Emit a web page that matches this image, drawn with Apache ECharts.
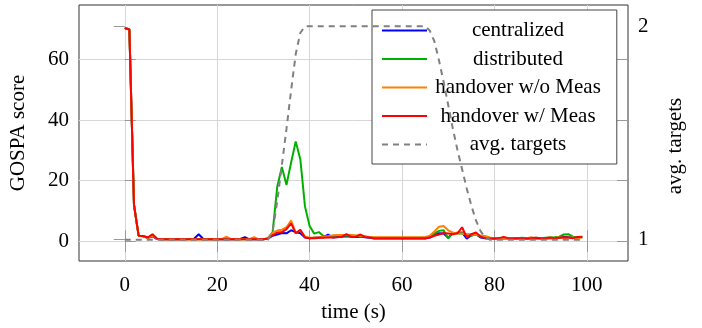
<!DOCTYPE html>
<html>
<head>
<meta charset="utf-8">
<script src="https://cdn.jsdelivr.net/npm/echarts@6/dist/echarts.min.js"></script>
<style>
  html, body { margin: 0; padding: 0; background: #fff; }
  #chart { width: 702px; height: 328px; }
</style>
</head>
<body>
<div id="chart"></div>
<script>
// 数据
var time = Array.from({ length: 100 }, (_, i) => i); // 0..99 s

var centralized = [
  70.5, 70, 12, 1.8, 1.6, 1.0, 1.6, 0.7, 0.6, 0.6,
  0.6, 0.6, 0.6, 0.6, 0.7, 0.8, 2.3, 0.7, 0.6, 0.6,
  0.6, 0.6, 0.7, 0.6, 0.6, 0.7, 1.3, 0.6, 0.6, 0.6,
  0.6, 0.8, 1.8, 2.2, 2.7, 2.6, 3.6, 3.0, 2.6, 1.2,
  1.0, 1.1, 1.2, 1.3, 2.2, 1.2, 1.4, 1.5, 1.6, 1.5,
  1.4, 1.5, 1.3, 1.1, 0.9, 0.9, 0.9, 0.9, 0.9, 0.9,
  0.9, 0.9, 0.9, 0.9, 0.9, 0.9, 1.2, 2.0, 2.6, 2.5,
  1.1, 2.6, 2.8, 2.9, 0.8, 2.0, 2.3, 1.2, 1.0, 0.9,
  0.9, 0.9, 1.0, 0.9, 0.9, 0.9, 0.9, 0.9, 1.0, 0.9,
  0.9, 0.9, 1.0, 1.0, 1.1, 1.4, 1.3, 1.2, 1.3, 1.4
];
var distributed = [
  70.5, 70, 12, 1.8, 1.6, 1.2, 2.2, 0.7, 0.6, 0.6,
  0.6, 0.6, 0.6, 0.6, 0.6, 0.6, 0.7, 0.6, 0.6, 0.6,
  0.6, 0.6, 0.6, 0.6, 0.6, 0.6, 0.6, 0.6, 0.6, 0.6,
  0.6, 1.0, 3.0, 18, 24.5, 18.6, 26, 33, 27, 11.5,
  5.0, 2.5, 3.0, 1.7, 1.5, 1.8, 1.9, 1.9, 1.8, 1.9,
  1.8, 1.7, 1.5, 1.3, 1.1, 1.1, 1.1, 1.1, 1.1, 1.1,
  1.1, 1.1, 1.1, 1.1, 1.1, 1.2, 1.5, 2.5, 3.4, 3.6,
  0.9, 2.8, 2.5, 2.6, 2.0, 1.8, 2.3, 1.5, 1.1, 1.0,
  1.0, 1.0, 1.1, 1.0, 1.0, 1.0, 1.1, 1.0, 1.0, 1.1,
  1.0, 1.1, 1.2, 1.3, 1.5, 2.2, 2.3, 1.5, 1.3, 1.4
];
var handoverNoMeas = [
  70.5, 70, 12, 1.8, 1.6, 1.0, 1.8, 0.7, 0.6, 0.6,
  0.6, 0.6, 0.6, 0.6, 0.6, 0.6, 0.6, 0.6, 0.6, 0.6,
  0.6, 0.7, 1.5, 0.7, 0.6, 0.6, 0.6, 0.7, 1.3, 0.6,
  0.6, 1.0, 2.8, 3.5, 3.8, 4.6, 6.8, 2.8, 3.6, 1.5,
  1.1, 1.2, 1.3, 1.5, 1.6, 1.9, 2.0, 2.0, 2.0, 2.0,
  1.9, 1.8, 1.6, 1.4, 1.3, 1.3, 1.3, 1.3, 1.3, 1.3,
  1.3, 1.3, 1.3, 1.3, 1.3, 1.4, 1.8, 3.2, 4.8, 5.0,
  3.6, 2.8, 2.6, 2.5, 2.4, 2.3, 2.1, 1.9, 1.7, 1.2,
  1.0, 0.9, 1.0, 0.9, 0.9, 1.0, 0.9, 1.0, 1.3, 1.0,
  0.9, 1.0, 1.0, 1.1, 1.3, 1.0, 1.1, 1.2, 1.0, 1.2
];
var handoverMeas = [
  70.5, 70, 12, 1.8, 1.7, 1.2, 2.3, 0.8, 0.6, 0.6,
  0.6, 0.6, 0.6, 0.6, 0.6, 0.6, 0.6, 0.6, 0.6, 0.6,
  0.6, 0.6, 0.6, 0.6, 0.6, 0.6, 0.6, 0.6, 0.6, 0.6,
  0.6, 0.9, 2.0, 2.8, 3.0, 4.0, 5.9, 2.6, 3.8, 1.2,
  1.0, 1.0, 1.1, 1.1, 1.2, 1.2, 1.3, 1.5, 2.3, 1.4,
  1.5, 2.2, 1.4, 1.2, 1.0, 1.0, 1.0, 1.0, 1.0, 1.0,
  1.0, 1.0, 1.0, 1.0, 1.0, 1.0, 1.2, 1.8, 2.2, 2.7,
  2.5, 2.3, 2.6, 4.6, 1.2, 2.3, 2.9, 1.5, 1.0, 0.9,
  0.9, 1.0, 1.4, 1.0, 0.9, 1.0, 1.0, 0.9, 1.0, 1.1,
  1.0, 1.0, 1.2, 1.0, 1.1, 1.3, 1.2, 1.0, 1.4, 1.5
];
var avgTargets = [
  1, 1, 1, 1, 1, 1, 1, 1, 1, 1,
  1, 1, 1, 1, 1, 1, 1, 1, 1, 1,
  1, 1, 1, 1, 1, 1, 1, 1, 1, 1,
  1, 1, 1.04, 1.18, 1.35, 1.52, 1.7, 1.87, 1.97, 2.0,
  2, 2, 2, 2, 2, 2, 2, 2, 2, 2,
  2, 2, 2, 2, 2, 2, 2, 2, 2, 2,
  2, 2, 2, 2, 2, 2, 1.98, 1.93, 1.84, 1.74,
  1.63, 1.52, 1.42, 1.33, 1.24, 1.16, 1.09, 1.04, 1.01, 1,
  1, 1, 1, 1, 1, 1, 1, 1, 1, 1,
  1, 1, 1, 1, 1, 1, 1, 1, 1, 1
];

var xTicks = [0, 20, 40, 60, 80, 100];
var gospaTicks = [0, 20, 40, 60];
var targetTicks = [1, 2];

var FONT = "Liberation Serif";
var labelStyle = { fontFamily: FONT, fontSize: 21, color: "#000" };
var tickStyle = { color: "#999", width: 1 };
var gridStyle = { color: "#d6d6d6", width: 1 };

function pairs(values) {
  return values.map((v, i) => [time[i], v]);
}

var chartDom = document.getElementById("chart");
var myChart = echarts.init(chartDom, null, { renderer: "canvas" });

var option = {
  animation: false,
  grid: {
    left: 79,
    top: 5,
    width: 549,
    height: 258,
    show: true,
    borderColor: "#333",
    borderWidth: 1,
    backgroundColor: "transparent",
  },
  legend: {
    orient: "vertical",
    left: 372,
    top: 10,
    padding: [10, 16, 9, 9],
    itemWidth: 45,
    itemHeight: 14,
    itemGap: 7.5,
    backgroundColor: "#fff",
    borderColor: "#444",
    borderWidth: 1,
    itemStyle: { opacity: 0 }, // 图例只画线，不画圆点
    data: ["centralized", "distributed", "handover w/o Meas", "handover w/ Meas", "avg. targets"],
    formatter: "{a|{name}}",
    textStyle: {
      rich: {
        a: { width: 172, height: 20, align: "center", fontFamily: FONT, fontSize: 21, color: "#000" },
      },
    },
  },
  xAxis: [
    {
      type: "value",
      min: -9.9,
      max: 108.9,
      position: "bottom",
      axisLine: { show: false },
      axisTick: { inside: true, length: 11, lineStyle: tickStyle, customValues: xTicks },
      axisLabel: Object.assign({ margin: 14, customValues: xTicks }, labelStyle),
      splitLine: { show: true, lineStyle: gridStyle },
      name: "time (s)",
      nameLocation: "middle",
      nameGap: 41,
      nameTextStyle: labelStyle,
    },
    {
      type: "value",
      min: -9.9,
      max: 108.9,
      position: "top",
      axisLine: { show: false },
      axisTick: { inside: true, length: 11, lineStyle: tickStyle, customValues: xTicks },
      axisLabel: { show: false },
      splitLine: { show: false },
    },
  ],
  yAxis: [
    {
      type: "value",
      min: -6.56,
      max: 78.1,
      position: "left",
      axisLine: { show: false },
      axisTick: { inside: true, length: 11, lineStyle: tickStyle, customValues: gospaTicks },
      axisLabel: Object.assign({ margin: 10, padding: [3, 0, 0, 0], customValues: gospaTicks }, labelStyle),
      splitLine: { show: true, lineStyle: gridStyle },
      name: "GOSPA score",
      nameLocation: "middle",
      nameGap: 50,
      nameRotate: 90,
      nameTextStyle: labelStyle,
    },
    {
      type: "value",
      min: 0.9,
      max: 2.1,
      position: "right",
      axisLine: { show: false },
      axisTick: { inside: true, length: 11, lineStyle: tickStyle, customValues: targetTicks },
      axisLabel: Object.assign({ margin: 10, padding: [3, 0, 0, 0], customValues: targetTicks }, labelStyle),
      splitLine: { show: false },
      name: "avg. targets",
      nameLocation: "middle",
      nameGap: 37,
      nameRotate: 90,
      nameTextStyle: Object.assign({ padding: [0, 26, 0, 0], verticalAlign: "top" }, labelStyle),
    },
    {
      type: "value",
      min: -6.56,
      max: 78.1,
      position: "right",
      axisLine: { show: false },
      axisTick: { inside: true, length: 11, lineStyle: tickStyle, customValues: gospaTicks },
      axisLabel: { show: false },
      splitLine: { show: false },
    },
  ],
  series: [
    {
      name: "centralized",
      type: "line",
      symbol: "none",
      lineStyle: { width: 2, color: "#0000ff" },
      itemStyle: { color: "#0000ff" },
      data: pairs(centralized),
    },
    {
      name: "distributed",
      type: "line",
      symbol: "none",
      lineStyle: { width: 2, color: "#00b000" },
      itemStyle: { color: "#00b000" },
      data: pairs(distributed),
    },
    {
      name: "handover w/o Meas",
      type: "line",
      symbol: "none",
      lineStyle: { width: 2, color: "#ff8000" },
      itemStyle: { color: "#ff8000" },
      data: pairs(handoverNoMeas),
    },
    {
      name: "handover w/ Meas",
      type: "line",
      symbol: "none",
      lineStyle: { width: 2, color: "#ff0000" },
      itemStyle: { color: "#ff0000" },
      data: pairs(handoverMeas),
    },
    {
      name: "avg. targets",
      type: "line",
      yAxisIndex: 1,
      symbol: "none",
      z: 5,
      lineStyle: { width: 2, color: "#808080", type: [6, 5] },
      itemStyle: { color: "#808080" },
      data: pairs(avgTargets),
    },
  ],
};

myChart.setOption(option);

window.addEventListener("resize", () => {
  myChart.resize();
});
</script>
</body>
</html>
